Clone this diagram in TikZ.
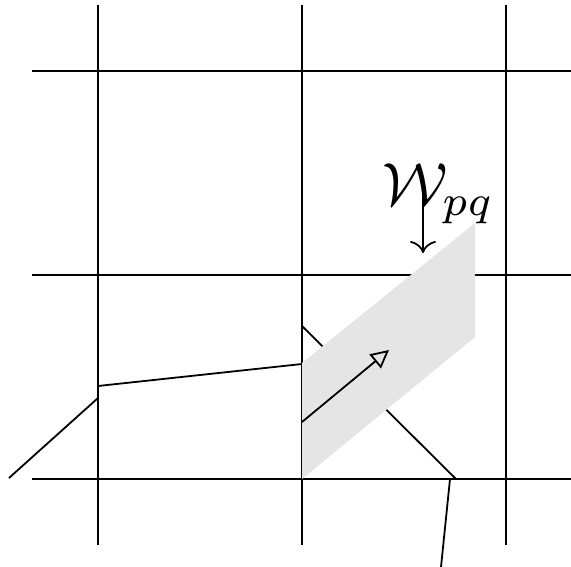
\documentclass[tikz,border=0pt]{standalone}
\usetikzlibrary{arrows.meta}
\definecolor{cellgray}{RGB}{229,229,229}
\begin{document}
\begin{tikzpicture}[x=1pt,y=-1pt,
  ln/.style={line width=1.8pt, line cap=butt},
  cellfill/.style={fill=cellgray, draw=none}]
\useasboundingbox (0,0) rectangle (571,567);
% grid
\foreach \x in {98,302,506} \draw[ln] (\x,5) -- (\x,545);
\foreach \y in {71,275,479} \draw[ln] (32,\y) -- (571,\y);
% polygon edges
\coordinate (a) at (302,326);
\coordinate (b) at (456,479);
\coordinate (c) at (450,479);
\coordinate (d) at (441,567);
\coordinate (e) at (98,386);
\coordinate (f) at (302,364);
\coordinate (g) at (98,398);
\coordinate (h) at (9,478);
\draw[ln] (a) -- (b);
\draw[ln] (c) -- (d);
\draw[ln] (e) -- (f);
\draw[ln] (g) -- (h);
% face
\coordinate (p1) at (302,479);
\coordinate (p2) at (475,337);
\coordinate (p3) at (475,223);
\coordinate (p4) at (302,363);
\fill[cellfill] (p1) -- (p2) -- (p3) -- (p4) -- cycle;
% normal arrow
\coordinate (n0) at (302,422);
\coordinate (n1) at (389,350);
\draw[ln, -{Triangle[open, length=18pt, width=18pt]}] (n0) -- (n1);
% label
\node[anchor=base west, inner sep=0pt, scale=6.1] (lab) at (381,206) {$\mathcal{W}_{pq}$};
\coordinate (w0) at (423,195);
\coordinate (w1) at (423,253);
\draw[ln, -{To[length=12pt, width=26pt]}] (w0) -- (w1);
\end{tikzpicture}
\end{document}
